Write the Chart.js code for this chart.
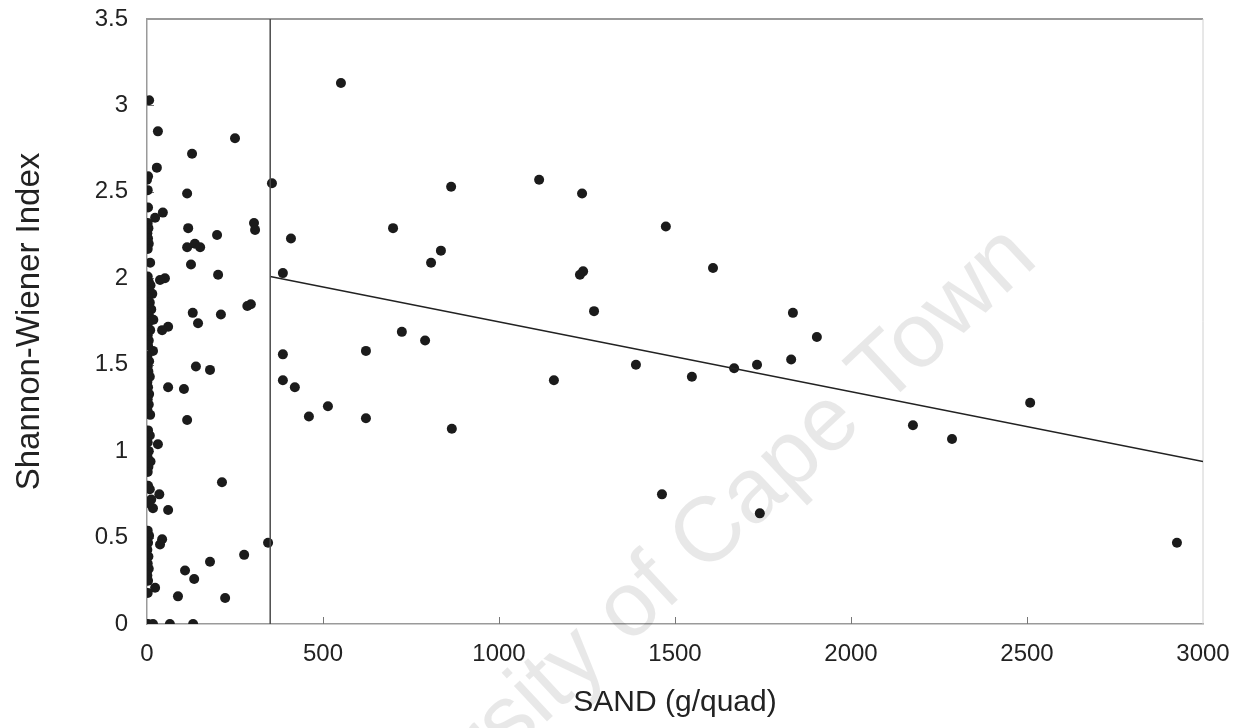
<!DOCTYPE html>
<html>
<head>
<meta charset="utf-8">
<title>Shannon-Wiener Index vs SAND</title>
<script src="https://cdn.jsdelivr.net/npm/chart.js@4.4.1/dist/chart.umd.min.js"></script>
<style>
  html, body { margin: 0; padding: 0; background: #fff; }
  #wrap { width: 1240px; height: 728px; }
</style>
</head>
<body>
<div id="wrap"><canvas id="chart" width="1240" height="728"></canvas></div>
<script>
// sand (g/quad) for each quadrat
const sandValues = [
  6, 31, 28, 3, 0, 2, 3, 45, 23,
  2, 4, 1, 3, 5, 2, 9,
  51, 37, 2, 5, 10, 3, 15, 2, 8, 4, 12, 1, 6, 18, 3, 60, 43, 9, 2, 5, 17, 3, 1, 6, 2, 4, 8, 1, 3, 6, 2, 5, 1, 9,
  3, 8, 31, 2, 5, 1, 10, 4, 2,
  3, 8, 35, 12, 17, 60, 5,
  2, 6, 43, 37, 3, 1, 4, 2, 5, 1, 3, 23, 2,
  3, 17, 65, 131,
  128, 250, 114, 117, 199, 114, 136, 151, 125, 202, 304, 307, 295, 285, 210, 130, 145,
  139, 179, 60, 105, 114, 213, 344, 276, 179, 108, 134, 88, 222,
  355, 551, 699, 409, 386, 864, 1114, 1236, 1474, 1608, 1835, 1903, 835, 807, 1239, 1230, 1270,
  724, 790, 386, 622, 386, 420, 1389, 1548, 1668, 1733, 1830, 1156, 866, 460, 514, 622,
  1463, 1741, 2176, 2287, 2509, 2926
];

// Shannon-Wiener index, same order
const shannonValues = [
  3.03, 2.85, 2.64, 2.59, 2.57, 2.51, 2.41, 2.38, 2.35,
  2.32, 2.29, 2.26, 2.23, 2.20, 2.17, 2.09,
  2.00, 1.99, 2.01, 1.98, 1.96, 1.93, 1.91, 1.89, 1.86, 1.84, 1.82, 1.80, 1.78, 1.76, 1.74, 1.72, 1.70, 1.70, 1.67, 1.64, 1.58, 1.61, 1.55, 1.52, 1.49, 1.46, 1.43, 1.40, 1.37, 1.33, 1.30, 1.27, 1.24, 1.21,
  1.12, 1.09, 1.04, 1.05, 1.00, 0.97, 0.94, 0.91, 0.88,
  0.80, 0.78, 0.75, 0.72, 0.67, 0.66, 0.70,
  0.54, 0.51, 0.49, 0.46, 0.47, 0.43, 0.39, 0.35, 0.32, 0.28, 0.25, 0.21, 0.18,
  0, 0, 0, 0,
  2.72, 2.81, 2.49, 2.29, 2.25, 2.18, 2.20, 2.18, 2.08, 2.02, 2.32, 2.28, 1.85, 1.84, 1.79, 1.80, 1.74,
  1.49, 1.47, 1.37, 1.36, 1.18, 0.82, 0.47, 0.40, 0.36, 0.31, 0.26, 0.16, 0.15,
  2.55, 3.13, 2.29, 2.23, 2.03, 2.53, 2.57, 2.49, 2.30, 2.06, 1.80, 1.66, 2.16, 2.09, 2.04, 2.02, 1.81,
  1.69, 1.64, 1.56, 1.58, 1.41, 1.37, 1.50, 1.43, 1.48, 1.50, 1.53, 1.41, 1.13, 1.20, 1.26, 1.19,
  0.75, 0.64, 1.15, 1.07, 1.28, 0.47
];

// threshold at ~350 g/quad and the fitted line beyond it
const thresholdX = [350, 350];
const thresholdY = [0, 3.5];
const trendX = [350, 3000];
const trendY = [2.01, 0.94];

const xTicks = [0, 500, 1000, 1500, 2000, 2500, 3000];
const yTicks = [0, 0.5, 1, 1.5, 2, 2.5, 3, 3.5];

const toPoints = (xs, ys) => xs.map((x, i) => ({ x: x, y: ys[i] }));

// watermark + plot frame + inward tick marks
const framePlugin = {
  id: 'frame',
  beforeDatasetsDraw(chart) {
    const ctx = chart.ctx;
    ctx.save();
    ctx.translate(1040, 262);
    ctx.rotate(-43 * Math.PI / 180);
    ctx.font = '92px "Liberation Sans", Arial, sans-serif';
    ctx.fillStyle = 'rgba(0,0,0,0.09)';
    ctx.textAlign = 'right';
    ctx.textBaseline = 'alphabetic';
    ctx.fillText('University of Cape Town', 0, 0);
    ctx.restore();

    const { left, right, top, bottom } = chart.chartArea;
    ctx.save();
    ctx.strokeStyle = '#9a9a9a';
    ctx.lineWidth = 2;
    ctx.beginPath();
    ctx.moveTo(left, top);
    ctx.lineTo(right, top);
    ctx.stroke();
    ctx.strokeStyle = '#d0d0d0';
    ctx.lineWidth = 1;
    ctx.beginPath();
    ctx.moveTo(right, top);
    ctx.lineTo(right, bottom);
    ctx.stroke();

    const xs = chart.scales.x;
    const ys = chart.scales.y;
    ctx.strokeStyle = '#777';
    ctx.lineWidth = 1;
    xTicks.forEach(v => {
      if (v === 0 || v === 3000) return;
      const px = Math.round(xs.getPixelForValue(v)) + 0.5;
      ctx.beginPath();
      ctx.moveTo(px, bottom);
      ctx.lineTo(px, bottom - 7);
      ctx.stroke();
    });
    yTicks.forEach(v => {
      if (v === 0 || v === 3.5) return;
      const py = Math.round(ys.getPixelForValue(v)) + 0.5;
      ctx.beginPath();
      ctx.moveTo(left, py);
      ctx.lineTo(left + 7, py);
      ctx.stroke();
    });
    ctx.restore();
  }
};

const fontFamily = '"Liberation Sans", Arial, sans-serif';

new Chart(document.getElementById('chart'), {
  type: 'scatter',
  data: {
    datasets: [
      {
        label: 'threshold',
        data: toPoints(thresholdX, thresholdY),
        showLine: true,
        borderColor: '#4a4a4a',
        borderWidth: 1.5,
        pointRadius: 0
      },
      {
        label: 'trend',
        data: toPoints(trendX, trendY),
        showLine: true,
        borderColor: '#222',
        borderWidth: 1.5,
        pointRadius: 0
      },
      {
        label: 'quadrats',
        data: toPoints(sandValues, shannonValues),
        backgroundColor: '#1b1b1b',
        borderColor: '#1b1b1b',
        borderWidth: 0,
        pointRadius: 5
      }
    ]
  },
  options: {
    responsive: false,
    animation: false,
    layout: { padding: { top: 19, right: 37, left: 0, bottom: 0 } },
    plugins: {
      legend: { display: false },
      tooltip: { enabled: false }
    },
    scales: {
      x: {
        type: 'linear',
        min: 0,
        max: 3000,
        afterFit: s => { s.height = 104; s.paddingLeft = 0; s.paddingRight = 0; },
        afterBuildTicks: s => { s.ticks = xTicks.map(v => ({ value: v })); },
        grid: { display: false, drawTicks: false },
        border: { display: true, color: '#9a9a9a', width: 1.5 },
        ticks: {
          padding: 16, color: '#222', maxRotation: 0,
          font: { family: fontFamily, size: 24 },
          callback: v => String(v)
        },
        title: {
          display: true,
          text: 'SAND (g/quad)',
          color: '#222',
          font: { family: fontFamily, size: 30 },
          padding: { top: 0, bottom: 7 }
        }
      },
      y: {
        type: 'linear',
        min: 0,
        max: 3.5,
        afterFit: s => { s.width = 147; s.paddingTop = 0; s.paddingBottom = 0; },
        afterBuildTicks: s => { s.ticks = yTicks.map(v => ({ value: v })); },
        grid: { display: false, drawTicks: false },
        border: { display: true, color: '#9a9a9a', width: 1.5 },
        ticks: {
          padding: 19, color: '#222',
          font: { family: fontFamily, size: 24 },
          callback: v => String(v)
        },
        title: {
          display: true,
          text: 'Shannon-Wiener Index',
          color: '#222',
          font: { family: fontFamily, size: 33 },
          padding: { top: 10, bottom: 0 }
        }
      }
    }
  },
  plugins: [framePlugin]
});
</script>
</body>
</html>
